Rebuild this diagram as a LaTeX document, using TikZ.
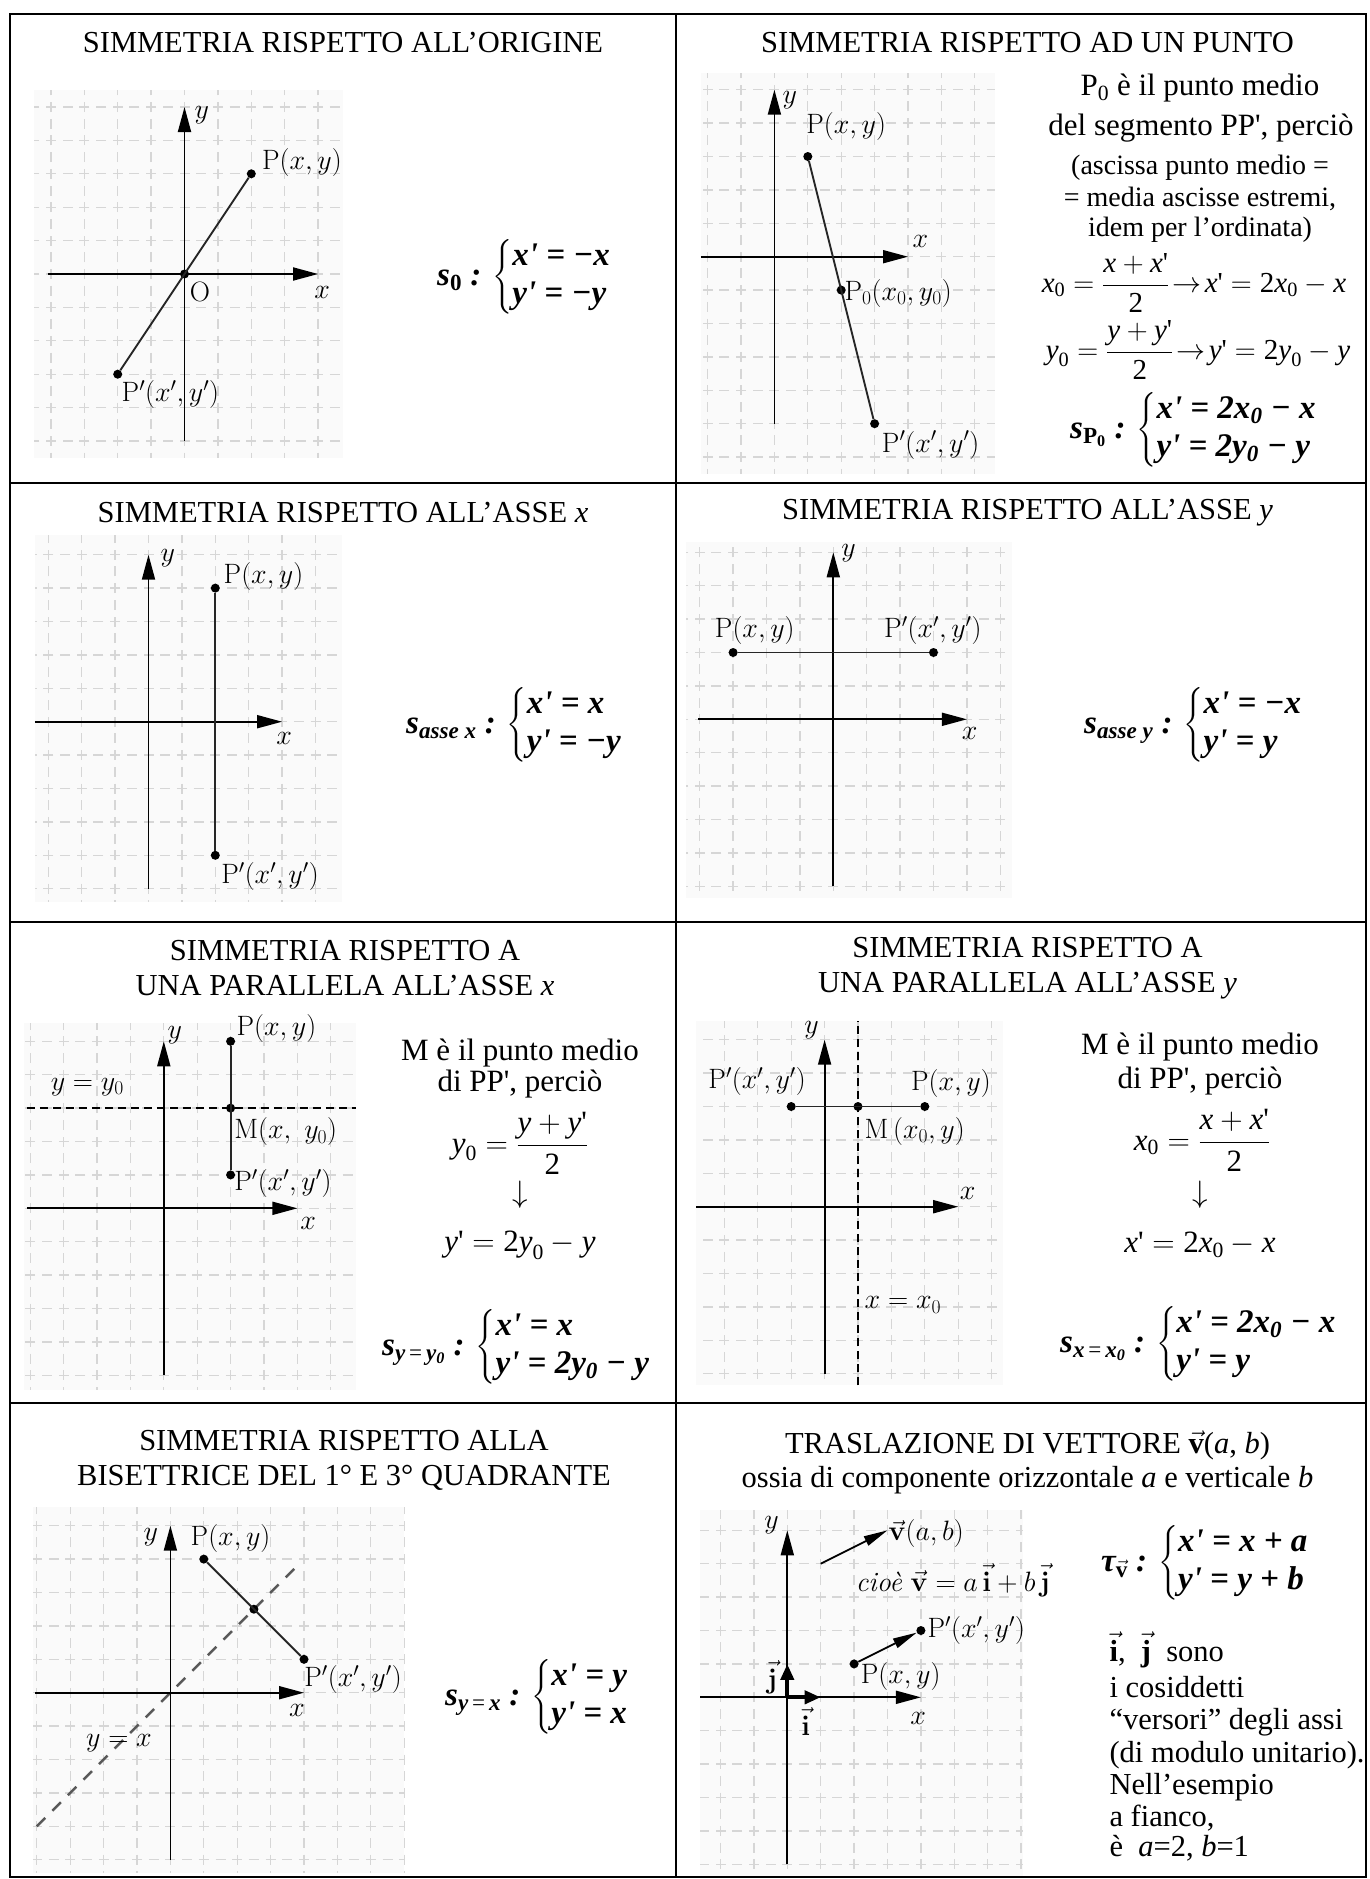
\documentclass[tikz,border=0pt]{standalone}
\usepackage{fix-cm}
\usepackage{amsmath}
\usepackage[no-math]{fontspec}
\newfontfamily\tnr{Liberation Serif}
\usetikzlibrary{arrows.meta}

\newcommand{\varit}[1]{\textit{#1}}
\newcommand{\numup}[1]{\textup{#1}}
\newcommand{\apice}{\mbox{\textquotesingle}}
\newcommand{\vettore}[1]{\ensuremath{\vec{\textbf{\textup{#1}}}}}
% griglia a quadretti: xmin xmax ymin ymax, poi righe k e j
\newcommand{\quadretti}[8]{%
  \fill[sfondo] (#1,#3) rectangle (#2,#4);
  \foreach \k in {#5,...,#6}{\draw[quadretto] (\k,0) -- (\k,#3) (\k,0) -- (\k,#4);}
  \foreach \j in {#7,...,#8}{\draw[quadretto] (0,\j) -- (#1,\j) (0,\j) -- (#2,\j);}
}

\begin{document}
\begin{tikzpicture}[x=1pt, y=-1pt,
  tabella/.style={line width=2.6pt},
  titolo/.style={font=\tnr\fontsize{30.5}{34.5}\selectfont, align=center},
  testo/.style={font=\tnr\fontsize{31}{33}\selectfont, align=center},
  testino/.style={font=\tnr\fontsize{28}{31}\selectfont},
  riga/.style={font=\tnr\fontsize{30.5}{33}\selectfont, anchor=west},
  formula/.style={font=\tnr\fontsize{31}{36}\selectfont},
  sistema/.style={font=\tnr\bfseries\itshape\fontsize{33}{38}\selectfont, anchor=west, inner sep=0pt},
  sfondo/.style={fill=gray!4},
  quadretto/.style={draw=gray!32, line width=1.3pt, dash pattern=on 10pt off 6.7pt, dash phase=5pt},
  asse/.style={line width=1.8pt, -{Triangle[length=25pt, width=13pt]}},
  segmento/.style={line width=1.9pt, black!85},
  vettore/.style={line width=1.8pt, -{Triangle[length=24pt, width=10pt]}},
  versore/.style={line width=4pt, -{Triangle[length=16pt, width=13pt]}},
  tratteggio/.style={line width=1.4pt, dash pattern=on 8pt off 5pt},
  bisettrice/.style={draw=gray!70!black, line width=2.4pt, dash pattern=on 12pt off 10pt},
  punto/.style={circle, fill, inner sep=0pt, minimum size=9pt},
  etichetta/.style={font=\fontsize{28}{32}\selectfont, inner sep=0.5pt}]
\useasboundingbox (0,0) rectangle (1369,1879);

% Simmetria rispetto all'origine
\node[titolo] (tit1) at (343,43) {SIMMETRIA RISPETTO ALL’ORIGINE};
\begin{scope}[shift={(184.5,274)}, x=33.4pt, y=33.4pt]
\quadretti{-4.5}{4.75}{-5.5}{5.5}{-4}{4}{-5}{5}
\draw[asse] (-4.1,0) -- (4,0);
\draw[asse] (0,-5) -- (0,5);
\node[punto] (P1) at (2,3) {};
\node[punto] (Q1) at (-2,-3) {};
\node[punto] (O1) at (0,0) {};
\draw[segmento] (P1) -- (Q1);
\node[etichetta] (ly1) at (0.52,4.76) {$y$};
\node[etichetta] (lx1) at (4.12,-0.54) {$x$};
\node[etichetta] (lO1) at (0.46,-0.54) {O};
\node[etichetta, anchor=west] (lP1) at (2.3,3.35) {$\mathrm{P}(x, y)$};
\node[etichetta, anchor=west] (lQ1) at (-1.9,-3.62) {$\mathrm{P}'(x', y')$};
\end{scope}
\node[sistema] (s1) at (437,277) {s\textsubscript{\upshape 0} : $\left\{\begin{tabular}{@{}l@{}}x\apice{} = −x\\y\apice{} = −y\end{tabular}\right.$};

% Simmetria rispetto ad un punto
\node[titolo] (tit2) at (1027.5,43) {SIMMETRIA RISPETTO AD UN PUNTO};
\begin{scope}[shift={(774.4,256.7)}, x=33.4pt, y=33.4pt]
\quadretti{-2.2}{6.6}{-6.5}{5.5}{-2}{6}{-6}{5}
\draw[asse] (-2.2,0) -- (4,0);
\draw[asse] (0,-5) -- (0,5);
\node[punto] (P2) at (1,3) {};
\node[punto] (M2) at (2,-1) {};
\node[punto] (Q2) at (3,-5) {};
\draw[segmento] (P2) -- (Q2);
\node[etichetta] (ly2) at (0.46,4.69) {$y$};
\node[etichetta] (lx2) at (4.37,0.45) {$x$};
\node[etichetta] (lP2) at (2.15,3.89) {$\mathrm{P}(x, y)$};
\node[etichetta, anchor=west] (lM2) at (2.08,-1.1) {$\mathrm{P}_0(x_0, y_0)$};
\node[etichetta, anchor=west] (lQ2) at (3.2,-5.64) {$\mathrm{P}'(x', y')$};
\end{scope}
\node[testo] (t2a) at (1200,88) {P\textsubscript{0} è il punto medio};
\node[testo] (t2b) at (1201,128) {del segmento PP\textquotesingle, perciò};
\node[testino] (t2c) at (1200,168) {(ascissa punto medio =};
\node[testino] (t2d) at (1200,199) {= media ascisse estremi,};
\node[testino] (t2e) at (1200,230) {idem per l’ordinata)};
\node[formula, font=\tnr\fontsize{29}{34}\selectfont] (f2a) at (1194,283) {$\varit{x}_{\numup{0}} = \dfrac{\varit{x} + \varit{x}\apice}{\numup{2}} \!\rightarrow\! \varit{x}\apice = \numup{2}\varit{x}_{\numup{0}} - \varit{x}$};
\node[formula, font=\tnr\fontsize{29}{34}\selectfont] (f2b) at (1198,350) {$\varit{y}_{\numup{0}} = \dfrac{\varit{y} + \varit{y}\apice}{\numup{2}} \!\rightarrow\! \varit{y}\apice = \numup{2}\varit{y}_{\numup{0}} - \varit{y}$};
\node[sistema] (s2) at (1070,430) {s\textsubscript{\upshape P\textsubscript{0}} : $\left\{\begin{tabular}{@{}l@{}}x\apice{} = 2x\textsubscript{0} − x\\y\apice{} = 2y\textsubscript{0} − y\end{tabular}\right.$};

% Simmetria rispetto all'asse x
\node[titolo] (tit3) at (343,513) {SIMMETRIA RISPETTO ALL’ASSE \textit{x}};
\begin{scope}[shift={(148.5,721.7)}, x=33.4pt, y=33.4pt]
\quadretti{-3.4}{5.8}{-5.4}{5.6}{-3}{5}{-5}{5}
\draw[asse] (-3.4,0) -- (4,0);
\draw[asse] (0,-5) -- (0,5);
\node[punto] (P3) at (2,4) {};
\node[punto] (Q3) at (2,-4) {};
\draw[segmento] (P3) -- (Q3);
\node[etichetta] (ly3) at (0.58,4.9) {$y$};
\node[etichetta] (lx3) at (4.06,-0.49) {$x$};
\node[etichetta, anchor=west] (lP3) at (2.23,4.34) {$\mathrm{P}(x, y)$};
\node[etichetta, anchor=west] (lQ3) at (2.16,-4.64) {$\mathrm{P}'(x', y')$};
\end{scope}
\node[sistema] (s3) at (406,725) {s\textsubscript{asse x} : $\left\{\begin{tabular}{@{}l@{}}x\apice{} = x\\y\apice{} = −y\end{tabular}\right.$};

% Simmetria rispetto all'asse y
\node[titolo] (tit4) at (1027.5,513) {SIMMETRIA RISPETTO ALL’ASSE \textit{y}};
\begin{scope}[shift={(833.3,719.3)}, x=33.4pt, y=33.4pt]
\quadretti{-4.4}{5.35}{-5.35}{5.3}{-4}{5}{-5}{5}
\draw[asse] (-4.05,0) -- (4,0);
\draw[asse] (0,-5) -- (0,5);
\node[punto] (P4) at (-3,2) {};
\node[punto] (Q4) at (3,2) {};
\draw[segmento] (P4) -- (Q4);
\node[etichetta] (ly4) at (0.46,4.98) {$y$};
\node[etichetta] (lx4) at (4.08,-0.41) {$x$};
\node[etichetta] (lP4) at (-2.35,2.67) {$\mathrm{P}(x, y)$};
\node[etichetta] (lQ4) at (2.98,2.67) {$\mathrm{P}'(x', y')$};
\end{scope}
\node[sistema] (s4) at (1084,725) {s\textsubscript{asse y} : $\left\{\begin{tabular}{@{}l@{}}x\apice{} = −x\\y\apice{} = y\end{tabular}\right.$};

% Simmetria rispetto a una parallela all'asse x
\node[titolo] (tit5) at (345,968) {SIMMETRIA RISPETTO A\\UNA PARALLELA ALL’ASSE \textit{x}};
\begin{scope}[shift={(163.8,1208.3)}, x=33.4pt, y=33.4pt]
\quadretti{-4.2}{5.75}{-5.45}{5.55}{-4}{5}{-5}{5}
\draw[tratteggio] (-4.1,3) -- (5.75,3);
\draw[asse] (-4.1,0) -- (4,0);
\draw[asse] (0,-5) -- (0,5);
\node[punto] (P5) at (2,5) {};
\node[punto] (M5) at (2,3) {};
\node[punto] (Q5) at (2,1) {};
\draw[segmento] (P5) -- (Q5);
\node[etichetta] (ly5) at (0.33,5.19) {$y$};
\node[etichetta] (lx5) at (4.32,-0.45) {$x$};
\node[etichetta, anchor=west] (lP5) at (2.16,5.39) {$\mathrm{P}(x, y)$};
\node[etichetta] (lr5) at (-2.29,3.64) {$y = y_0$};
\node[etichetta, anchor=west] (lM5) at (2.09,2.29) {$\mathrm{M}(x,\ y_0)$};
\node[etichetta, anchor=west] (lQ5) at (2.09,0.75) {$\mathrm{P}'(x', y')$};
\end{scope}
\node[testo] (t5a) at (520,1053) {M è il punto medio};
\node[testo] (t5b) at (520,1084) {di PP\textquotesingle, perciò};
\node[formula] (f5a) at (520,1143) {$\varit{y}_{\numup{0}} = \dfrac{\varit{y} + \varit{y}\apice}{\numup{2}}$};
\node[formula] (f5b) at (520,1195) {$\downarrow$};
\node[formula] (f5c) at (520,1245) {$\varit{y}\apice = \numup{2}\varit{y}_{\numup{0}} - \varit{y}$};
\node[sistema] (s5) at (382,1347) {s\textsubscript{y\,{\mdseries\upshape =}\,y\textsubscript{0}} : $\left\{\begin{tabular}{@{}l@{}}x\apice{} = x\\y\apice{} = 2y\textsubscript{0} − y\end{tabular}\right.$};

% Simmetria rispetto a una parallela all'asse y
\node[titolo] (tit6) at (1027.5,968) {SIMMETRIA RISPETTO A\\UNA PARALLELA ALL’ASSE \textit{y}};
\begin{scope}[shift={(824.6,1206.7)}, x=33.4pt, y=33.4pt]
\quadretti{-3.85}{5.35}{-5.35}{5.55}{-3}{5}{-5}{5}
\draw[tratteggio] (1,-5.35) -- (1,5.55);
\draw[asse] (-3.85,0) -- (4,0);
\draw[asse] (0,-5) -- (0,5);
\node[punto] (P6) at (3,3) {};
\node[punto] (M6) at (1,3) {};
\node[punto] (Q6) at (-1,3) {};
\draw[segmento] (P6) -- (Q6);
\node[etichetta] (ly6) at (-0.39,5.29) {$y$};
\node[etichetta] (lx6) at (4.28,0.4) {$x$};
\node[etichetta] (lQ6) at (-2.02,3.74) {$\mathrm{P}'(x', y')$};
\node[etichetta] (lP6) at (3.78,3.69) {$\mathrm{P}(x, y)$};
\node[etichetta, anchor=west] (lM6) at (1.18,2.25) {$\mathrm{M}\,(x_0, y)$};
\node[etichetta, anchor=west] (lr6) at (1.18,-2.94) {$x = x_0$};
\end{scope}
\node[testo] (t6a) at (1200,1047) {M è il punto medio};
\node[testo] (t6b) at (1200,1081) {di PP\textquotesingle, perciò};
\node[formula] (f6a) at (1202,1140) {$\varit{x}_{\numup{0}} = \dfrac{\varit{x} + \varit{x}\apice}{\numup{2}}$};
\node[formula] (f6b) at (1200,1195) {$\downarrow$};
\node[formula] (f6c) at (1200,1245) {$\varit{x}\apice = \numup{2}\varit{x}_{\numup{0}} - \varit{x}$};
\node[sistema] (s6) at (1060,1344) {s\textsubscript{x\,{\mdseries\upshape =}\,x\textsubscript{0}} : $\left\{\begin{tabular}{@{}l@{}}x\apice{} = 2x\textsubscript{0} − x\\y\apice{} = y\end{tabular}\right.$};

% Simmetria rispetto alla bisettrice
\node[titolo] (tit7) at (344,1460.5) {SIMMETRIA RISPETTO ALLA\\BISETTRICE DEL 1° E 3° QUADRANTE};
\begin{scope}[shift={(170.4,1692.7)}, x=33.4pt, y=33.4pt]
\quadretti{-4.1}{7}{-5.4}{5.56}{-4}{7}{-5}{5}
\draw[bisettrice] (-4,-4) -- (3.9,3.9);
\draw[asse] (-4.05,0) -- (4,0);
\draw[asse] (0,-5) -- (0,5);
\node[punto] (P7) at (1,4) {};
\node[punto] (M7) at (2.5,2.5) {};
\node[punto] (Q7) at (4,1) {};
\draw[segmento] (P7) -- (Q7);
\node[etichetta] (ly7) at (-0.59,4.67) {$y$};
\node[etichetta] (lx7) at (3.79,-0.52) {$x$};
\node[etichetta] (lP7) at (1.8,4.62) {$\mathrm{P}(x, y)$};
\node[etichetta, anchor=west] (lQ7) at (3.99,0.4) {$\mathrm{P}'(x', y')$};
\node[etichetta] (lr7) at (-1.54,-1.52) {$y = x$};
\end{scope}
\node[sistema] (s7) at (445,1697) {s\textsubscript{y\,{\mdseries\upshape =}\,x} : $\left\{\begin{tabular}{@{}l@{}}x\apice{} = y\\y\apice{} = x\end{tabular}\right.$};

% Traslazione di vettore v
\node[titolo] (tit8) at (1027.5,1462.5) {TRASLAZIONE DI VETTORE \vettore{v}(\textit{a}, \textit{b})\\ossia di componente orizzontale \textit{a} e verticale \textit{b}};
\begin{scope}[shift={(787.3,1697.3)}, x=33.4pt, y=33.4pt]
\quadretti{-2.6}{7.05}{-5.4}{5.6}{-2}{7}{-5}{5}
\draw[asse] (-2.6,0) -- (4,0);
\draw[asse] (0,-5) -- (0,5);
\coordinate (O8) at (0,0);
\coordinate (I8) at (1,0);
\coordinate (J8) at (0,1);
\coordinate (A8) at (1,4);
\coordinate (B8) at (3,5);
\draw[versore] (O8) -- (I8);
\draw[versore] (O8) -- (J8);
\draw[vettore] (A8) -- (B8);
\node[punto] (P8) at (2,1) {};
\node[punto] (Q8) at (4,2) {};
\draw[vettore] (P8) -- (Q8);
\node[etichetta] (ly8) at (-0.47,5.16) {$y$};
\node[etichetta] (lx8) at (3.92,-0.63) {$x$};
\node[etichetta] (lj8) at (-0.45,0.6) {$\vec{\mathbf{j}}$};
\node[etichetta] (li8) at (0.55,-0.72) {$\vec{\mathbf{i}}$};
\node[etichetta, anchor=west] (lP8) at (2.18,0.62) {$\mathrm{P}(x, y)$};
\node[etichetta, anchor=west] (lQ8) at (4.18,2.01) {$\mathrm{P}'(x', y')$};
\node[etichetta, anchor=west] (lv8) at (3.01,4.9) {$\vec{\mathbf{v}}(a,b)$};
\node[etichetta, anchor=west] (lc8) at (2.03,3.5) {\textit{cioè} $\vec{\mathbf{v}} = a\,\vec{\mathbf{i}} + b\,\vec{\mathbf{j}}$};
\end{scope}
\node[sistema] (s8) at (1101,1563) {τ\textsubscript{\upshape\vettore{v}} : $\left\{\begin{tabular}{@{}l@{}}x\apice{} = x + a\\y\apice{} = y + b\end{tabular}\right.$};
\node[riga] (r1) at (1106,1650) {\vettore{i}, \ \vettore{j} \ sono};
\node[riga] (r2) at (1106,1687) {i cosiddetti};
\node[riga] (r3) at (1106,1722) {“versori” degli assi};
\node[riga] (r4) at (1106,1755) {(di modulo unitario).};
\node[riga] (r5) at (1106,1787) {Nell’esempio};
\node[riga] (r6) at (1106,1818) {a fianco,};
\node[riga] (r7) at (1106,1848) {è \ \textit{a}=2, \textit{b}=1};

% Tabella
\draw[tabella] (10,14) rectangle (1366,1877);
\draw[tabella] (676,14) -- (676,1877);
\draw[tabella] (10,483) -- (1366,483);
\draw[tabella] (10,922) -- (1366,922);
\draw[tabella] (10,1403) -- (1366,1403);
\end{tikzpicture}
\end{document}
